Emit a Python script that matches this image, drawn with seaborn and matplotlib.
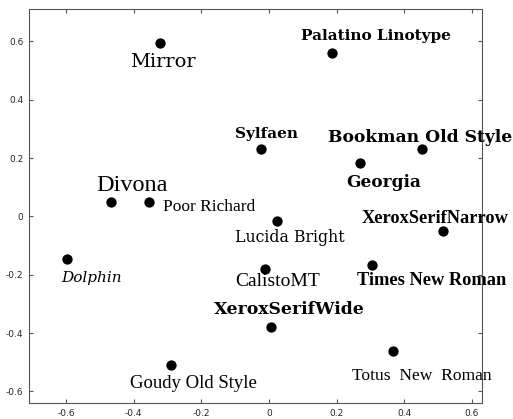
import matplotlib
matplotlib.use("Agg")
import matplotlib.pyplot as plt
import seaborn as sns
import pandas as pd

nomes = ['Mirror', 'Palatino Linotype', 'Sylfaen', 'Bookman Old Style', 'Georgia',
         'Divona', 'Poor Richard', 'Lucida Bright', 'XeroxSerifNarrow', 'Dolphin',
         'CalistoMT', 'Times New Roman', 'XeroxSerifWide', 'Goudy Old Style',
         'Totus  New  Roman']
xs = [-0.322, 0.186, -0.024, 0.452, 0.270, -0.467, -0.355, 0.024, 0.515, -0.598,
      -0.012, 0.305, 0.006, -0.290, 0.367]
ys = [0.595, 0.560, 0.231, 0.231, 0.183, 0.050, 0.050, -0.015, -0.050, -0.146,
      -0.180, -0.166, -0.378, -0.510, -0.462]

# estilo de cada rótulo: deslocamento (pt), fonte, peso, estilo, tamanho, alinhamento
estilos = {
    'Mirror':            ((2, -14), 'DejaVu Serif', 'normal', 'normal', 14, 'center'),
    'Palatino Linotype': ((32, 12), 'DejaVu Serif', 'bold', 'normal', 11, 'center'),
    'Sylfaen':           ((4, 11), 'DejaVu Serif', 'bold', 'normal', 11, 'center'),
    'Bookman Old Style': ((-1, 8), 'DejaVu Serif', 'bold', 'normal', 12.3, 'center'),
    'Georgia':           ((17, -14), 'DejaVu Serif', 'bold', 'normal', 12.2, 'center'),
    'Divona':            ((15, 12), 'Liberation Serif', 'normal', 'normal', 17.5, 'center'),
    'Poor Richard':      ((10, -4), 'Liberation Serif', 'normal', 'normal', 12.5, 'left'),
    'Lucida Bright':     ((9, -12), 'DejaVu Serif', 'normal', 'normal', 11.3, 'center'),
    'XeroxSerifNarrow':  ((-6, 9), 'Liberation Serif', 'bold', 'normal', 13.2, 'center'),
    'Dolphin':           ((18, -14), 'DejaVu Serif', 'normal', 'italic', 11, 'center'),
    'CalistoMT':         ((9, -9), 'Liberation Serif', 'normal', 'normal', 14, 'center'),
    'Times New Roman':   ((43, -11), 'Liberation Serif', 'bold', 'normal', 13.2, 'center'),
    'XeroxSerifWide':    ((13, 12), 'DejaVu Serif', 'bold', 'normal', 12.4, 'center'),
    'Goudy Old Style':   ((16, -13), 'Liberation Serif', 'normal', 'normal', 13.5, 'center'),
    'Totus  New  Roman': ((21, -18), 'Liberation Serif', 'normal', 'normal', 12.6, 'center'),
}

df = pd.DataFrame({'x': xs, 'y': ys, 'nome': nomes})

sns.set_style("ticks")
fig = plt.figure(figsize=(5.13, 4.19), dpi=100)
ax = fig.add_axes([0.0565, 0.038, 0.883, 0.9405])

sns.scatterplot(data=df, x='x', y='y', color='black', s=55, edgecolor='black',
                linewidth=0, ax=ax, legend=False)

for nome, x, y in zip(nomes, xs, ys):
    off, fam, peso, est, tam, ha = estilos[nome]
    ax.annotate(nome, (x, y), xytext=off, textcoords='offset points',
                ha=ha, va='center', family=fam, fontweight=peso, style=est,
                fontsize=tam, color='black')

ax.set_xlim(-0.71, 0.63)
ax.set_ylim(-0.64, 0.711)
ax.set_xticks([-0.6, -0.4, -0.2, 0, 0.2, 0.4, 0.6])
ax.set_yticks([-0.6, -0.4, -0.2, 0, 0.2, 0.4, 0.6])
ax.set_xticklabels(['-0.6', '-0.4', '-0.2', '0', '0.2', '0.4', '0.6'])
ax.set_yticklabels(['-0.6', '-0.4', '-0.2', '0', '0.2', '0.4', '0.6'])
ax.tick_params(direction='in', top=True, right=True, labelsize=6.5, length=3,
               color='#555555', pad=4)
for s in ax.spines.values():
    s.set_color('#555555')
    s.set_linewidth(0.8)
ax.set_xlabel('')
ax.set_ylabel('')

fig.savefig('out.png', dpi=100)
